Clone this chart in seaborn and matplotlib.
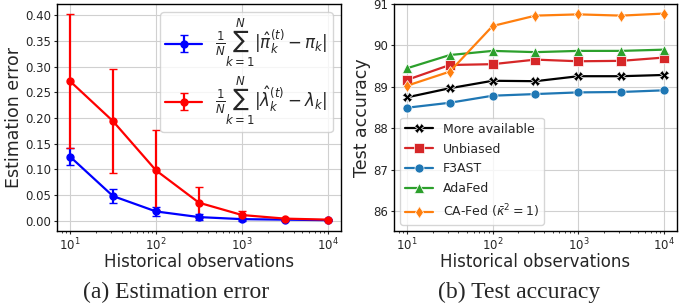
import numpy as np
import pandas as pd
import matplotlib
matplotlib.use("Agg")
import matplotlib.pyplot as plt
import seaborn as sns

# ---- data ----
obs = [10, 31.6, 100, 316, 1000, 3162, 10000]

pi_err = [0.125, 0.048, 0.018, 0.007, 0.003, 0.002, 0.001]
pi_std = [0.016, 0.013, 0.009, 0.006, 0.003, 0.002, 0.001]
lam_err = [0.272, 0.194, 0.098, 0.035, 0.011, 0.004, 0.002]
lam_std = [0.130, 0.102, 0.078, 0.030, 0.007, 0.002, 0.001]

acc_more = [88.75, 88.97, 89.15, 89.14, 89.26, 89.26, 89.29]
acc_unbiased = [89.17, 89.53, 89.55, 89.66, 89.62, 89.63, 89.71]
acc_f3ast = [88.50, 88.62, 88.79, 88.83, 88.87, 88.88, 88.92]
acc_adafed = [89.45, 89.77, 89.87, 89.84, 89.87, 89.87, 89.90]
acc_cafed = [89.03, 89.37, 90.47, 90.72, 90.75, 90.72, 90.77]

method_names = ["More available", "Unbiased", "F3AST", "AdaFed", r"CA-Fed ($\bar{\kappa}^2=1$)"]
method_vals = [acc_more, acc_unbiased, acc_f3ast, acc_adafed, acc_cafed]
method_colors = ["black", "#d62728", "#1f77b4", "#2ca02c", "#ff7f0e"]
method_markers = ["X", "s", "o", "^", "d"]

lbl_pi = r"$\frac{1}{N}\sum_{k=1}^{N}|\hat{\pi}_k^{(t)}-\pi_k|$"
lbl_lam = r"$\frac{1}{N}\sum_{k=1}^{N}|\hat{\lambda}_k^{(t)}-\lambda_k|$"

# ---- style ----
sns.set_style("ticks", {"axes.grid": True, "grid.color": "#d0d0d0",
                        "axes.edgecolor": "black", "xtick.bottom": True,
                        "ytick.left": True})
plt.rcParams["font.family"] = ["DejaVu Sans"]
plt.rcParams["mathtext.fontset"] = "dejavusans"

W, H = 694, 307
fig = plt.figure(figsize=(W / 100, H / 100), dpi=100)
ax1 = fig.add_axes([57 / W, 1 - 231 / H, (341 - 57) / W, (231 - 4) / H])
ax2 = fig.add_axes([394 / W, 1 - 231 / H, (677 - 394) / W, (231 - 4) / H])

# ---- left panel ----
ax1.errorbar(obs, pi_err, yerr=pi_std, color="blue", marker="o", ms=5,
             lw=1.6, capsize=3, label=lbl_pi)
ax1.errorbar(obs, lam_err, yerr=lam_std, color="red", marker="o", ms=5,
             lw=1.6, capsize=3, label=lbl_lam)
ax1.set_xscale("log")
ax1.set_yticks(np.arange(0, 0.41, 0.05))
ax1.set_yticklabels([f"{v:.2f}" for v in np.arange(0, 0.41, 0.05)])
ax1.set_xlabel("Historical observations", fontsize=12, labelpad=0)
ax1.set_ylabel("Estimation error", fontsize=12.5, labelpad=2)
ax1.legend(loc="upper right", fontsize=12, handlelength=2.2,
           borderaxespad=0.5, labelspacing=0.35, borderpad=0.3)

# ---- right panel ----
df = pd.DataFrame({
    "obs": np.tile(obs, len(method_names)),
    "acc": np.concatenate(method_vals),
    "method": np.repeat(method_names, len(obs)),
})
sns.lineplot(data=df, x="obs", y="acc", hue="method", style="method",
             hue_order=method_names, style_order=method_names,
             palette=method_colors, markers=method_markers, dashes=False,
             markersize=6.5, lw=1.6, markeredgewidth=0.5, ax=ax2)
ax2.set_xscale("log")
ax2.set_ylim(85.53, 91.0)
ax2.set_yticks([86, 87, 88, 89, 90, 91])
ax2.set_xlabel("Historical observations", fontsize=12, labelpad=0)
ax2.set_ylabel("Test accuracy", fontsize=12.5, labelpad=2)
h, l = ax2.get_legend_handles_labels()
ax2.legend(h, l, loc="lower left", fontsize=9, handlelength=2.2,
           borderaxespad=0.5, labelspacing=0.55)

for ax in (ax1, ax2):
    ax.tick_params(which="major", labelsize=8.5, length=2.5, pad=1.5, width=0.8)
    ax.tick_params(which="minor", length=1.5, width=0.6)
    for s in ax.spines.values():
        s.set_color("black")
        s.set_linewidth(1.0)

fig.text(176 / W, 1 - 292 / H, "(a) Estimation error", ha="center", va="center",
         fontsize=17, family=["Liberation Serif"])
fig.text(519 / W, 1 - 292 / H, "(b) Test accuracy", ha="center", va="center",
         fontsize=17, family=["Liberation Serif"])

fig.savefig("out.png", dpi=100)
